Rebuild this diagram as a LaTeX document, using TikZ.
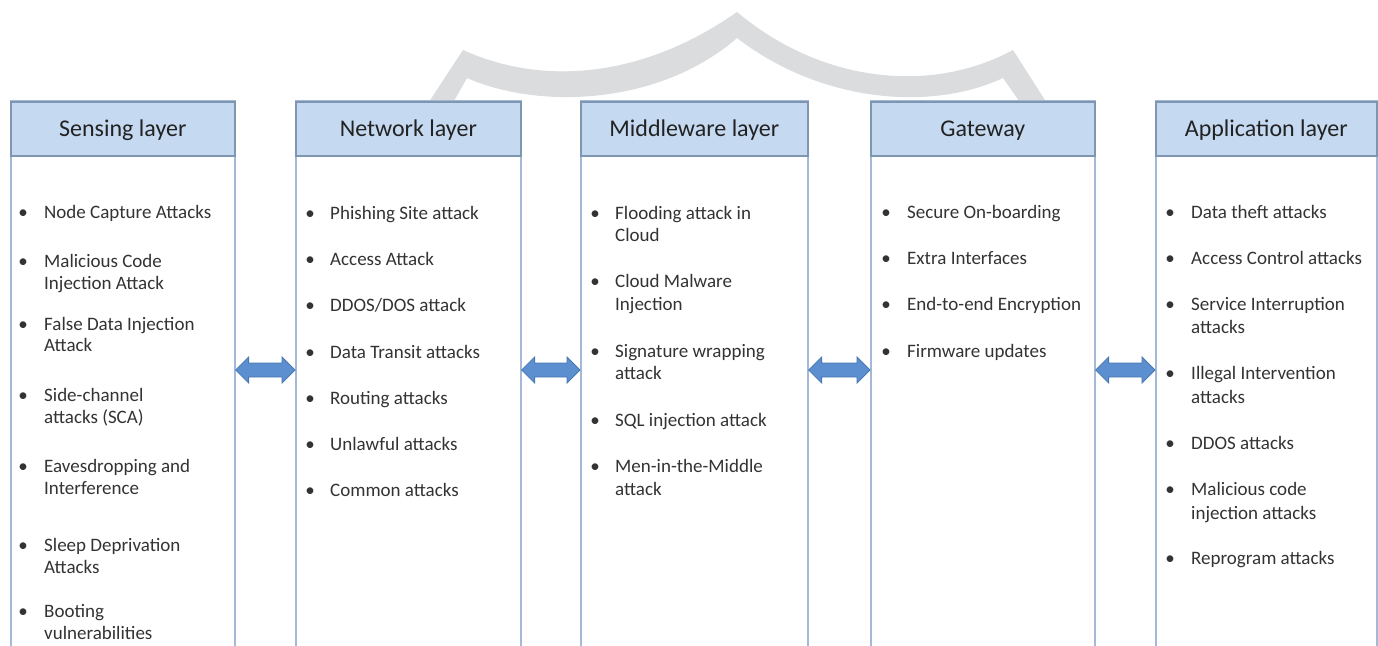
\documentclass[tikz,border=0pt]{standalone}
\usepackage{fontspec}
\setmainfont{Carlito}
\usetikzlibrary{calc}
\definecolor{bandgray}{HTML}{DADCDD}
\definecolor{headfill}{HTML}{C5D9F1}
\definecolor{headline}{HTML}{7F96B2}
\definecolor{bodyline}{HTML}{A3B9D5}
\definecolor{arrfill}{HTML}{5B8FCF}
\definecolor{arrline}{HTML}{4A78B0}
\definecolor{txt}{HTML}{333333}
\definecolor{headtxt}{HTML}{222222}
\tikzset{
  bodybox/.style={draw=bodyline, line width=1.6pt, fill=white, rectangle, anchor=north west, minimum height=600pt, inner sep=0pt},
  headbox/.style={draw=headline, line width=1.6pt, fill=headfill, rectangle, anchor=north west, minimum height=54pt, inner sep=0pt, text height=18pt, text depth=3pt, text=headtxt, font=\fontsize{24}{28}\selectfont},
  bul/.style={anchor=mid, inner sep=0pt, yshift=-4pt, text=txt, font=\fontsize{19}{23}\selectfont},
  itx/.style={anchor=mid west, inner sep=0pt, yshift=-4pt, text=txt, font=\fontsize{19}{23}\selectfont},
  blockarrow/.style={fill=arrfill, draw=arrline, line width=0.8pt, line join=miter}
}
\newcommand\itm[5]{\node[bul] (#1b) at (#2,#4) {•};\node[itx] (#1) at (#3,#4) {#5};}
\newcommand\cont[4]{\node[itx] (#1) at (#2,#3) {#4};}
\newcommand\dblarr[3]{%
  \coordinate (#1l) at (#2.east |- arrowy);
  \coordinate (#1r) at (#3.west |- arrowy);
  \draw[blockarrow] (#1l) -- ++(13,-13) -- ++(0,6) -- ($(#1r)+(-13,-7)$) -- ++(0,-6) -- (#1r)
    -- ++(-13,13) -- ++(0,-6) -- ($(#1l)+(13,7)$) -- ++(0,6) -- cycle;}
\begin{document}
\begin{tikzpicture}[x=1pt,y=-1pt]
\useasboundingbox (0,0) rectangle (1378,645);
\clip (0,0) rectangle (1378,645);
\fill[white] (0,0) rectangle (1378,645);
% grey band behind the boxes
\fill[bandgray] (425,108) -- (463,50)
  .. controls (540,85) and (640,80) .. (737,12)
  .. controls (820,82) and (930,95) .. (1013,50)
  -- (1050,108) -- (1024,108) -- (1003,78)
  .. controls (930,112) and (820,102) .. (737,38)
  .. controls (660,105) and (540,110) .. (467,78)
  -- (450,108) -- cycle;
% bodies
\node[bodybox, minimum width=224pt] (sB) at (10,100) {};
\node[bodybox, minimum width=225pt] (nB) at (295,100) {};
\node[bodybox, minimum width=227pt] (mB) at (580,100) {};
\node[bodybox, minimum width=224pt] (gB) at (870,100) {};
\node[bodybox, minimum width=221pt] (aB) at (1155,100) {};
% headers
\node[headbox, minimum width=224pt] (sH) at (10,101) {Sensing layer};
\node[headbox, minimum width=225pt] (nH) at (295,101) {Network layer};
\node[headbox, minimum width=227pt] (mH) at (580,101) {Middleware layer};
\node[headbox, minimum width=224pt] (gH) at (870,101) {Gateway};
\node[headbox, minimum width=221pt] (aH) at (1155,101) {Application layer};
% arrows
\coordinate (arrowy) at (0,370);
\dblarr{ar1}{sB}{nB}
\dblarr{ar2}{nB}{mB}
\dblarr{ar3}{mB}{gB}
\dblarr{ar4}{gB}{aB}
% Sensing layer
\itm{s1}{23}{44}{212}{Node Capture Attacks}
\itm{s2}{23}{44}{261}{Malicious Code}
\cont{s2b}{44}{283}{Injection Attack}
\itm{s3}{23}{44}{324}{False Data Injection}
\cont{s3b}{44}{345}{Attack}
\itm{s4}{23}{44}{395}{Side-channel}
\cont{s4b}{44}{417}{attacks (SCA)}
\itm{s5}{23}{44}{466}{Eavesdropping and}
\cont{s5b}{44}{488}{Interference}
\itm{s6}{23}{44}{545}{Sleep Deprivation}
\cont{s6b}{44}{567}{Attacks}
\itm{s7}{23}{44}{611}{Booting}
\cont{s7b}{44}{633}{vulnerabilities}
% Network layer
\itm{n1}{310}{330}{213}{Phishing Site attack}
\itm{n2}{310}{330}{259}{Access Attack}
\itm{n3}{310}{330}{305}{DDOS/DOS attack}
\itm{n4}{310}{330}{352}{Data Transit attacks}
\itm{n5}{310}{330}{398}{Routing attacks}
\itm{n6}{310}{330}{444}{Unlawful attacks}
\itm{n7}{310}{330}{490}{Common attacks}
% Middleware layer
\itm{m1}{595}{615}{213}{Flooding attack in}
\cont{m1b}{615}{235}{Cloud}
\itm{m2}{595}{615}{281}{Cloud Malware}
\cont{m2b}{615}{304}{Injection}
\itm{m3}{595}{615}{351}{Signature wrapping}
\cont{m3b}{615}{373}{attack}
\itm{m4}{595}{615}{420}{SQL injection attack}
\itm{m5}{595}{615}{466}{Men-in-the-Middle}
\cont{m5b}{615}{489}{attack}
% Gateway
\itm{g1}{886}{907}{212}{Secure On-boarding}
\itm{g2}{886}{907}{258}{Extra Interfaces}
\itm{g3}{886}{907}{304}{End-to-end Encryption}
\itm{g4}{886}{907}{351}{Firmware updates}
% Application layer
\itm{a1}{1170}{1191}{212}{Data theft attacks}
\itm{a2}{1170}{1191}{258}{Access Control attacks}
\itm{a3}{1170}{1191}{304}{Service Interruption}
\cont{a3b}{1191}{327}{attacks}
\itm{a4}{1170}{1191}{373}{Illegal Intervention}
\cont{a4b}{1191}{397}{attacks}
\itm{a5}{1170}{1191}{443}{DDOS attacks}
\itm{a6}{1170}{1191}{489}{Malicious code}
\cont{a6b}{1191}{513}{injection attacks}
\itm{a7}{1170}{1191}{558}{Reprogram attacks}
\end{tikzpicture}
\end{document}
